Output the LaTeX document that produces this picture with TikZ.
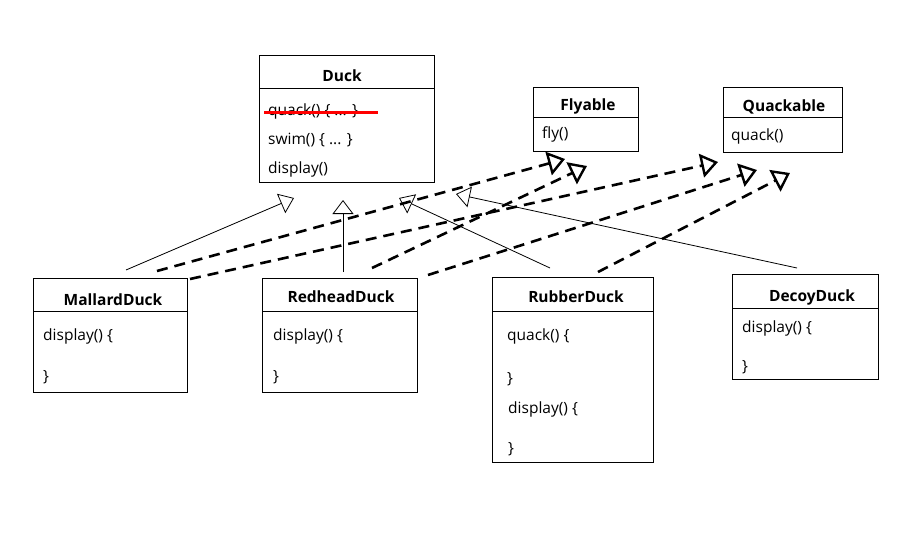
\documentclass[tikz,border=0pt]{standalone}
\usepackage{fontspec}
\setmainfont{Open Sans}
\usetikzlibrary{arrows.meta}
\begin{document}
\begin{tikzpicture}[x=1pt,y=-1pt,
  box/.style={draw, line width=1pt, inner sep=0pt, anchor=north west},
  sep/.style={line width=1pt},
  title/.style={font=\fontsize{15.5}{18}\selectfont\bfseries, anchor=base, inner sep=0pt},
  item/.style={font=\fontsize{15.5}{18}\selectfont, anchor=base west, inner sep=0pt},
  inh/.style={line width=0.8pt, -{Triangle[open, length=14pt, width=21pt]}},
  real/.style={line width=2.6pt, dash pattern=on 11pt off 7pt, -{Triangle[open, length=17pt, width=24pt, line width=2.4pt]}},
  strike/.style={red, line width=3pt}
]
\useasboundingbox[fill=white] (0,0) rectangle (910,554);

% ---- Duck ----
\node[box, minimum width=175pt, minimum height=127pt] (duck) at (259,55) {};
\draw[sep] (259,88) -- (434,88);
\node[title] (duckT) at (342,81) {Duck};
\node[item] (duckQ) at (268,115) {quack() \{ ... \}};
\node[item] (duckS) at (268,144) {swim() \{ ... \}};
\node[item] (duckD) at (268,173) {display()};
\draw[strike] (264,112) -- (378,112);

% ---- Flyable ----
\node[box, minimum width=105pt, minimum height=64pt] (fly) at (533,87) {};
\draw[sep] (533,117) -- (638,117);
\node[title] (flyT) at (588,110) {Flyable};
\node[item] (flyF) at (542,138) {fly()};

% ---- Quackable ----
\node[box, minimum width=119pt, minimum height=65pt] (quack) at (723,87) {};
\draw[sep] (723,117) -- (842,117);
\node[title] (quackT) at (784,111) {Quackable};
\node[item] (quackQ) at (731,140) {quack()};

% ---- MallardDuck ----
\node[box, minimum width=154pt, minimum height=114pt] (mallard) at (33,278) {};
\draw[sep] (33,311) -- (187,311);
\node[title] (mallardT) at (113,305) {MallardDuck};
\node[item] (mallardD) at (43,340) {display() \{};
\node[item] (mallardE) at (43,381) {\}};

% ---- RedheadDuck ----
\node[box, minimum width=155pt, minimum height=114pt] (redhead) at (262,278) {};
\draw[sep] (262,311) -- (417,311);
\node[title] (redheadT) at (341,302) {RedheadDuck};
\node[item] (redheadD) at (273,340) {display() \{};
\node[item] (redheadE) at (273,381) {\}};

% ---- RubberDuck ----
\node[box, minimum width=161pt, minimum height=185pt] (rubber) at (492,277) {};
\draw[sep] (492,311) -- (653,311);
\node[title] (rubberT) at (576,302) {RubberDuck};
\node[item] (rubberQ) at (507,340) {quack() \{};
\node[item] (rubberQE) at (507,383) {\}};
\node[item] (rubberD) at (508,413) {display() \{};
\node[item] (rubberDE) at (508,453) {\}};

% ---- DecoyDuck ----
\node[box, minimum width=146pt, minimum height=105pt] (decoy) at (732,274) {};
\draw[sep] (732,308) -- (878,308);
\node[title] (decoyT) at (812,301) {DecoyDuck};
\node[item] (decoyD) at (742,332) {display() \{};
\node[item] (decoyE) at (742,371) {\}};

% ---- connector ends ----
\coordinate (mS) at (126,270);   \coordinate (mT) at (294,198);
\coordinate (rS) at (343,272);   \coordinate (rT) at (343,200);
\coordinate (uS) at (550,268);   \coordinate (uT) at (399,198);
\coordinate (dS) at (797,268);   \coordinate (dT) at (456,194);

\coordinate (mfS) at (157,271);  \coordinate (mfT) at (565,159);
\coordinate (rfS) at (372,268);  \coordinate (rfT) at (587,166);
\coordinate (mqS) at (190,279);  \coordinate (mqT) at (718,162);
\coordinate (rqS) at (428,275);  \coordinate (rqT) at (757,170);
\coordinate (uqS) at (598,272);  \coordinate (uqT) at (790,173);

% ---- generalisation (solid) ----
\draw[inh] (mS) -- (mT);
\draw[inh] (rS) -- (rT);
\draw[inh] (uS) -- (uT);
\draw[inh] (dS) -- (dT);

% ---- realisation (dashed) ----
\draw[real] (mfS) -- (mfT);
\draw[real] (rfS) -- (rfT);
\draw[real] (mqS) -- (mqT);
\draw[real] (rqS) -- (rqT);
\draw[real] (uqS) -- (uqT);
\end{tikzpicture}
\end{document}
